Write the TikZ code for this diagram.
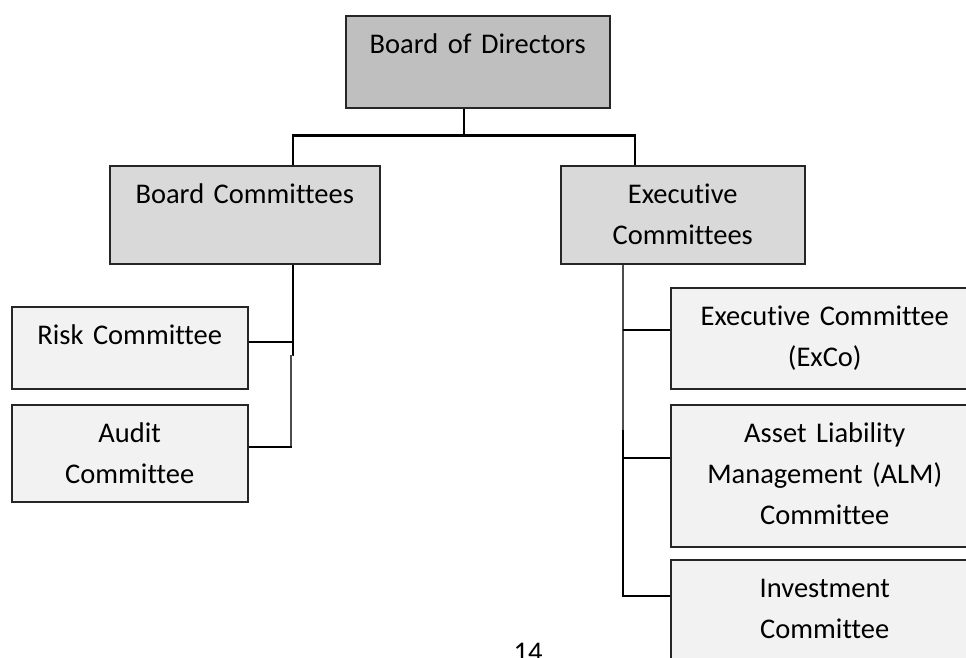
\documentclass[tikz,border=0pt]{standalone}
\usepackage{fontspec}
\setmainfont{Carlito}[Ligatures=NoCommon]
\usepackage{tikz}
\usetikzlibrary{calc}

\begin{document}
\begin{tikzpicture}[x=1pt,y=-1pt,
        card/.style={draw=black!85,line width=1.5pt,anchor=north west,inner sep=0pt,
            align=center,font=\fontsize{28.5}{41}\selectfont,text height=38pt},
        link/.style={line width=2.2pt},
        faintlink/.style={line width=1.6pt,black!70}]
        \clip (0,0) rectangle (966,657);
        \node[card,fill=black!25,text width=264pt,text depth=54pt] (bd) at (345,15) {Board of Directors};
        \node[card,fill=black!15,text width=270pt,text depth=60pt] (bc) at (109,165) {Board Committees};
        \node[card,fill=black!15,text width=244pt,text depth=60pt] (ec) at (560,165) {Executive\\Committees};
        \node[card,fill=black!5,text width=236pt,text depth=44pt] (risk) at (11,306) {Risk Committee};
        \node[card,fill=black!5,text width=236pt,text depth=59pt] (audit) at (11,404) {Audit\\Committee};
        \node[card,fill=black!5,text width=308pt,text depth=63pt] (exco) at (670,287) {Executive Committee\\(ExCo)};
        \node[card,fill=black!5,text width=308pt,text depth=104pt] (alm) at (670,404) {Asset Liability\\Management (ALM)\\Committee};
        \node[card,fill=black!5,text width=308pt,text depth=82pt] (inv) at (670,559) {Investment\\Committee};
        \node[font=\fontsize{28.5}{41}\selectfont,anchor=base,inner sep=0pt] (page) at (528,661) {14};
        \path (bd.south) ++(-14,0) coordinate (bdtap);
        \path (bc.north) ++(48,0) coordinate (bcin);
        \path (bc.south) ++(48,0) coordinate (bcout);
        \path (ec.north) ++(-48,0) coordinate (ecin);
        \path (ec.south) ++(-60,0) coordinate (ecout);
        \draw[link] (bdtap) -- ++(0,27) coordinate (fork);
        \draw[link] (bcin) |- (fork) -| (ecin);
        \path (risk.north east) ++(0,36) coordinate (riskin);
        \path (audit.north east) ++(0,43) coordinate (auditin);
        \draw[link] (bcout) -- ++(0,91) coordinate (jog);
        \draw[link] (riskin) -- (riskin -| bcout);
        \coordinate (jogb) at ($(jog)+(-2,0)$);
        \draw[faintlink] (jog) -- (jogb) -- (jogb |- auditin);
        \draw[link] (auditin) -- ($(jogb |- auditin)+(1,0)$);
        \path (exco.north west) ++(0,43) coordinate (excoin);
        \path (alm.north west) ++(0,54) coordinate (almin);
        \path (inv.north west) ++(0,37) coordinate (invin);
        \draw[faintlink] (ecout) -- ++(0,165) coordinate (ecmid);
        \draw[link] (ecmid) |- (invin);
        \draw[link] (excoin) -- (excoin -| ecout);
        \draw[link] (almin) -- (almin -| ecout);
    \end{tikzpicture}
\end{document}
